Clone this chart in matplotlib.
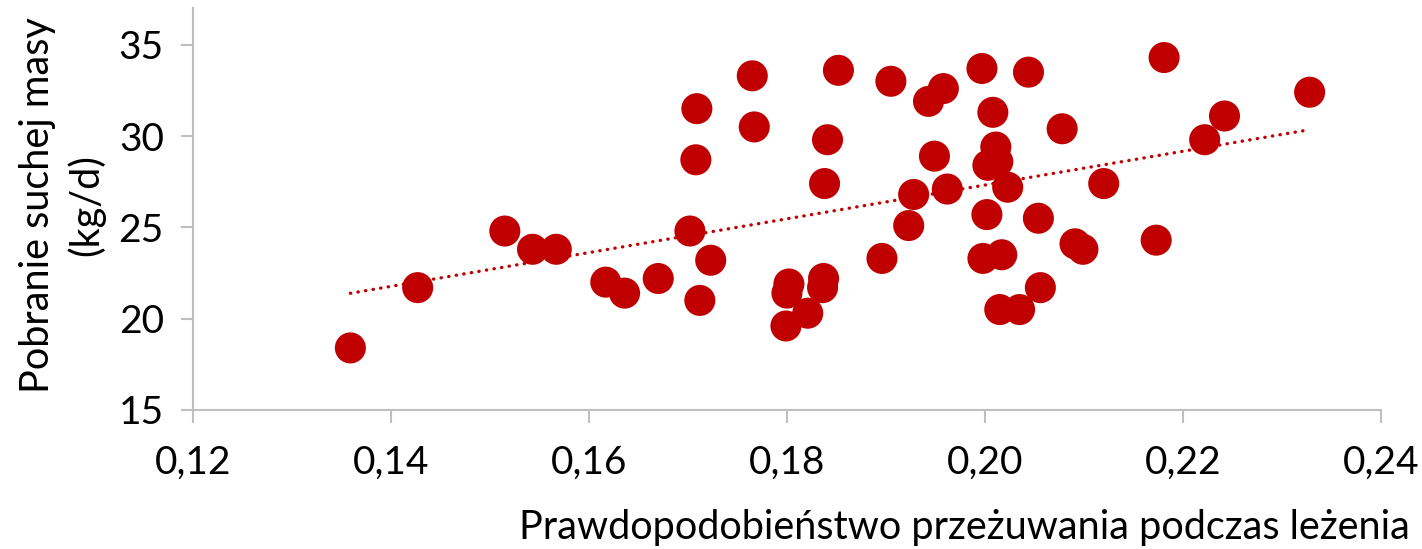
import matplotlib
matplotlib.use("Agg")
import matplotlib.pyplot as plt
import numpy as np
from matplotlib.ticker import FuncFormatter

# probability of rumination while lying vs. dry matter intake
rumination_prob = [
    0.1359, 0.1427, 0.1515, 0.1543, 0.1567, 0.1617, 0.1636, 0.1670, 0.1702,
    0.1709, 0.1708, 0.1712, 0.1723, 0.1765, 0.1767, 0.1799, 0.1802, 0.1800,
    0.1821, 0.1836, 0.1837, 0.1838, 0.1841, 0.1852, 0.1896, 0.1905, 0.1923,
    0.1928, 0.1943, 0.1958, 0.1949, 0.1962, 0.1997, 0.1998, 0.2002, 0.2008,
    0.2003, 0.2011, 0.2013, 0.2017, 0.2015, 0.2023, 0.2035, 0.2044, 0.2054,
    0.2056, 0.2078, 0.2091, 0.2099, 0.2120, 0.2173, 0.2181, 0.2222, 0.2242,
    0.2328,
]
dm_intake = [
    18.4, 21.7, 24.8, 23.8, 23.8, 22.0, 21.4, 22.2, 24.8,
    31.5, 28.7, 21.0, 23.2, 33.3, 30.5, 19.6, 21.9, 21.4,
    20.3, 21.7, 22.2, 27.4, 29.8, 33.6, 23.3, 33.0, 25.1,
    26.8, 31.9, 32.6, 28.9, 27.1, 33.7, 23.3, 25.7, 31.3,
    28.4, 29.4, 28.6, 23.5, 20.5, 27.2, 20.5, 33.5, 25.5,
    21.7, 30.4, 24.1, 23.8, 27.4, 24.3, 34.3, 29.8, 31.1,
    32.4,
]

x_ticks = [0.12, 0.14, 0.16, 0.18, 0.20, 0.22, 0.24]
y_ticks = [15, 20, 25, 30, 35]

red = "#C00000"
axis_grey = "#BFBFBF"

plt.rcParams["font.family"] = ["Lato", "DejaVu Sans"]

fig = plt.figure(figsize=(14.22, 5.49), dpi=100)
ax = fig.add_axes([0.1357, 0.2532, 0.8354, 0.7318])

x = np.array(rumination_prob)
y = np.array(dm_intake)
ax.scatter(x, y, s=500, color=red, edgecolors="none", zorder=3)

# linear trend line
slope, intercept = np.polyfit(x, y, 1)
xs = np.array([x.min(), x.max()])
ax.plot(xs, slope * xs + intercept, color=red, lw=2.4, ls=(0, (0.1, 2.2)),
        dash_capstyle="round", zorder=2)

ax.set_xlim(0.12, 0.24)
ax.set_ylim(15, 37)
ax.set_xticks(x_ticks)
ax.set_yticks(y_ticks)
ax.xaxis.set_major_formatter(FuncFormatter(lambda v, p: f"{v:.2f}".replace(".", ",")))

for side in ["top", "right"]:
    ax.spines[side].set_visible(False)
for side in ["left", "bottom"]:
    ax.spines[side].set_color(axis_grey)
    ax.spines[side].set_linewidth(1.5)
ax.tick_params(axis="both", length=9, width=1.5, color=axis_grey, labelsize=28)
ax.tick_params(axis="x", pad=16)
ax.tick_params(axis="y", pad=12)

fig.text(1410 / 1422, 1 - 527 / 549, "Prawdopodobieństwo przeżuwania podczas leżenia",
         ha="right", va="center", fontsize=28.5)
fig.text(62 / 1422, 1 - 205 / 549, "Pobranie suchej masy\n(kg/d)",
         rotation=90, ha="center", va="center", multialignment="center",
         fontsize=28.5, linespacing=1.35)

fig.savefig("out.png", dpi=100)
